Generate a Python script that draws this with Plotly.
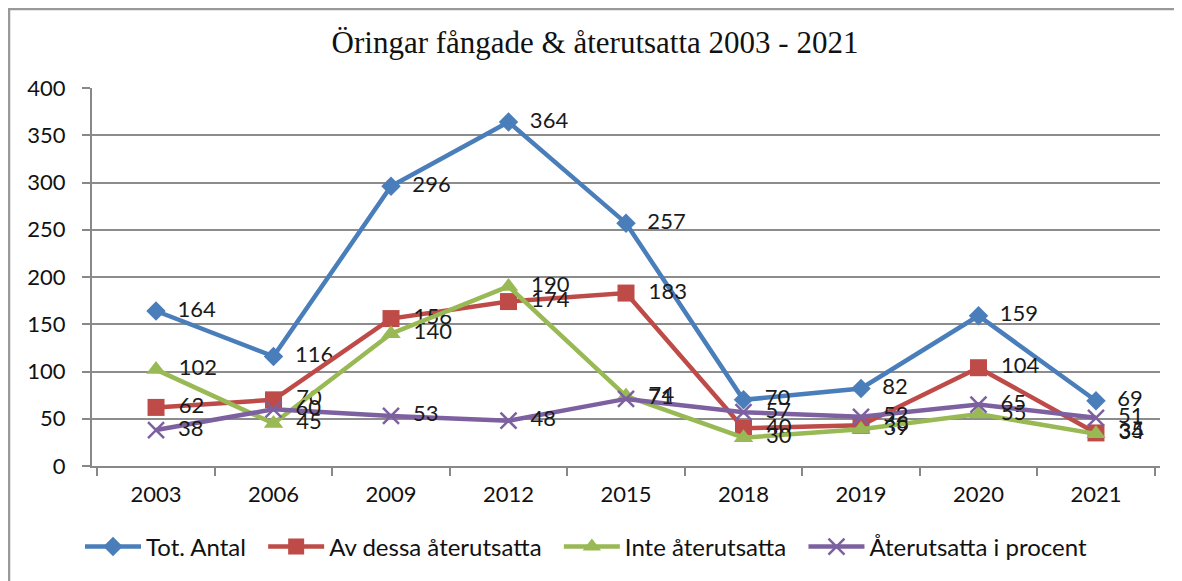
import plotly.graph_objects as go

years = ["2003", "2006", "2009", "2012", "2015", "2018", "2019", "2020", "2021"]
tot_antal = [164, 116, 296, 364, 257, 70, 82, 159, 69]
av_dessa = [62, 70, 156, 174, 183, 40, 43, 104, 35]
inte_ater = [102, 45, 140, 190, 74, 30, 39, 55, 34]
procent = [38, 60, 53, 48, 71, 57, 52, 65, 51]

series = [
    ("Tot. Antal", tot_antal, "#4A7EBB", "diamond", 15),
    ("Av dessa återutsatta", av_dessa, "#BE4B48", "square", 17),
    ("Inte återutsatta", inte_ater, "#98B954", "triangle-up", 17),
    ("Återutsatta i procent", procent, "#7D60A0", "x-thin", 16),
]

# page has an 8px body margin; figure coordinates are page minus 8
W, H = 1174, 573
L, R, T, B = 84, 22, 80, 115
pw, ph = W - L - R, H - T - B
SANS = "Lato, Open Sans, sans-serif"

fig = go.Figure()
for name, vals, color, sym, size in series:
    marker = dict(symbol=sym, size=size, color=color)
    if sym == "x-thin":
        marker["line"] = dict(color=color, width=2.5)
    fig.add_trace(go.Scatter(
        x=years, y=vals, name=name + "\u00a0\u00a0", mode="lines+markers+text",
        text=["\u2002" + str(v) for v in vals], textposition="middle right",
        textfont=dict(family=SANS, size=22, color="#1a1a1a"),
        line=dict(color=color, width=4.5), marker=marker, cliponaxis=False,
    ))

def px(x):
    return (x - L) / pw

def py(y):
    return (H - B - y) / ph

fig.update_layout(
    width=W, height=H,
    margin=dict(l=L, r=R, t=T, b=B, autoexpand=False),
    paper_bgcolor="white", plot_bgcolor="white",
    title=dict(text="Öringar fångade & återutsatta 2003 - 2021",
               font=dict(family="Liberation Serif, Times New Roman, serif", size=31, color="#111"),
               x=0.5, xanchor="center", y=1 - 34 / H, yanchor="middle"),
    showlegend=True,
    legend=dict(orientation="h", x=px(72), xanchor="left", y=py(539), yanchor="middle",
                font=dict(family=SANS, size=24, color="#111"),
                itemwidth=56, traceorder="normal"),
    xaxis=dict(type="category", showgrid=False, showline=True, linecolor="#888", linewidth=2,
               ticks="outside", tickson="boundaries", ticklen=8, tickcolor="#888", tickwidth=2,
               tickfont=dict(family=SANS, size=22, color="#111"),
               ticklabelstandoff=8),
    yaxis=dict(range=[0, 400], dtick=50, showgrid=True, gridcolor="#8c8c8c", gridwidth=1.5,
               showline=True, linecolor="#888", linewidth=2, zeroline=False,
               ticks="outside", ticklen=8, tickcolor="#888", tickwidth=2,
               tickfont=dict(family=SANS, size=22, color="#111"),
               ticklabelstandoff=12),
    shapes=[
        dict(type="line", xref="paper", yref="paper", x0=px(1), x1=px(1), y0=py(0), y1=py(600),
             line=dict(color="#999", width=2.5)),
        dict(type="line", xref="paper", yref="paper", x0=px(0), x1=px(1200), y0=py(1), y1=py(1),
             line=dict(color="#999", width=2.5)),
    ],
)

fig.write_html("out.html")
